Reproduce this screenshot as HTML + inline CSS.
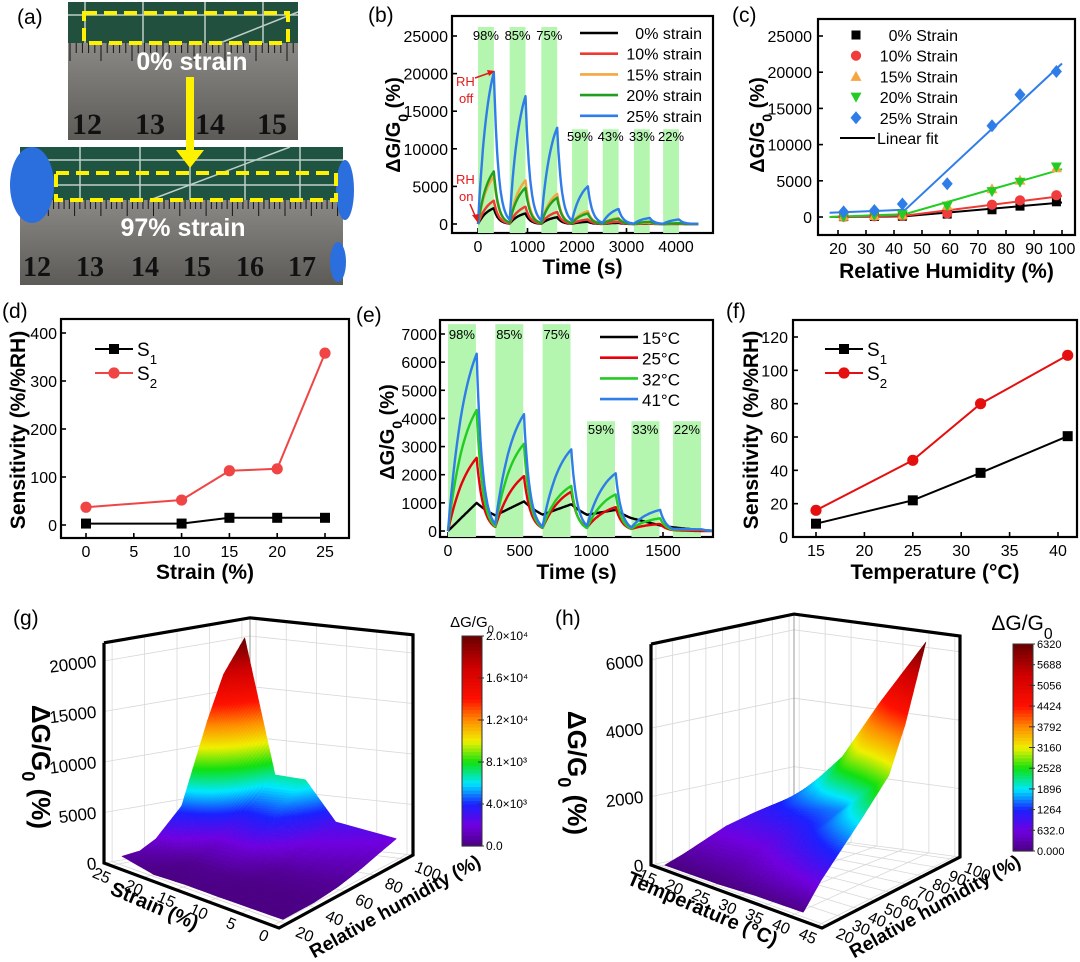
<!DOCTYPE html>
<html><head><meta charset="utf-8"><style>
html,body{margin:0;padding:0;background:#fff;}
svg{display:block;font-family:"Liberation Sans",Arial,sans-serif;}
</style></head><body>
<svg id="fig" width="1080" height="962" viewBox="0 0 1080 962">
<defs>
 <linearGradient id="rulerA" x1="0" y1="0" x2="0" y2="1"><stop offset="0" stop-color="#8a8985"/><stop offset="1" stop-color="#5d5b57"/></linearGradient>
 <clipPath id="clipB"><rect x="452" y="16" width="261" height="217"/></clipPath>
 <clipPath id="clipC"><rect x="818" y="19" width="257" height="216"/></clipPath>
 <clipPath id="clipE"><rect x="440" y="320" width="273" height="217"/></clipPath>
</defs>
<g>
 <text x="17" y="24" font-size="21">(a)</text>
 <rect x="68" y="2" width="230" height="41" fill="#22503f"/>
 <rect x="68" y="43" width="230" height="97" fill="url(#rulerA)"/>
 <g stroke="#e8efe8" stroke-width="1.5" opacity="0.8">
  <line x1="85" y1="2" x2="85" y2="43"/><line x1="143" y1="2" x2="143" y2="43"/><line x1="205" y1="2" x2="205" y2="43"/><line x1="263" y1="2" x2="263" y2="43"/><line x1="68" y1="15" x2="298" y2="15"/><line x1="220" y1="43" x2="298" y2="12"/>
 </g>
 <rect x="20" y="147" width="323" height="53" fill="#1f5443"/>
 <rect x="20" y="200" width="323" height="85" fill="url(#rulerA)"/>
 <g stroke="#e8efe8" stroke-width="1.5" opacity="0.8">
  <line x1="80" y1="147" x2="80" y2="200"/><line x1="140" y1="147" x2="140" y2="200"/><line x1="190" y1="147" x2="190" y2="200"/><line x1="245" y1="147" x2="245" y2="200"/><line x1="300" y1="147" x2="300" y2="200"/><line x1="20" y1="160" x2="343" y2="160"/><line x1="20" y1="185" x2="343" y2="185"/><line x1="150" y1="200" x2="290" y2="147"/>
 </g>
 <g id="rulerTicks"></g>
 <ellipse cx="32" cy="185" rx="22" ry="38" fill="#2b6ede"/>
 <ellipse cx="345" cy="190" rx="9" ry="30" fill="#2b6ede"/>
 <ellipse cx="338" cy="262" rx="8" ry="20" fill="#2b6ede"/>
 <rect x="84" y="13" width="204" height="30" fill="none" stroke="#fff200" stroke-width="4" stroke-dasharray="13 7"/>
 <rect x="56" y="173" width="280" height="27" fill="none" stroke="#fff200" stroke-width="4" stroke-dasharray="13 7"/>
 <line x1="190" y1="77" x2="190" y2="152" stroke="#fff200" stroke-width="8"/>
 <polygon points="176,150 204,150 190,168" fill="#fff200"/>
 <text x="192" y="70" font-size="25" font-weight="bold" fill="#fff" text-anchor="middle">0% strain</text>
 <text x="183" y="236" font-size="25" font-weight="bold" fill="#fff" text-anchor="middle">97% strain</text>
 <g font-family="Liberation Serif,serif" font-weight="bold" font-size="30" fill="#111" text-anchor="middle">
  <text x="87" y="134">12</text><text x="150" y="134">13</text><text x="210" y="134">14</text><text x="272" y="134">15</text>
 </g>
 <g font-family="Liberation Serif,serif" font-weight="bold" font-size="28" fill="#111" text-anchor="middle">
  <text x="37" y="276">12</text><text x="90" y="276">13</text><text x="145" y="276">14</text><text x="197" y="276">15</text><text x="250" y="276">16</text><text x="302" y="276">17</text>
 </g>
</g>
<g id="plots"></g>
</svg>
<script>
// Panel b
const bBandStarts=[0,640,1280,1900,2520,3150,3740];
const bBandLabels=['98%','85%','75%','59%','43%','33%','22%'];
const bSeriesNames=['0% strain','10% strain','15% strain','20% strain','25% strain'];
const bPeaks0=[2100,1400,900,300,150,50,20];
const bPeaks10=[3100,2300,1600,600,300,100,30];
const bPeaks15=[6300,5800,4000,1700,800,200,100];
const bPeaks20=[7000,4800,3500,1400,700,300,100];
const bPeaks25=[20200,17000,12800,5000,2000,800,600];
const bXTicks=[0,1000,2000,3000,4000];
const bYTicks=[0,5000,10000,15000,20000,25000];
// Panel c
const cRH=[22,33,43,59,75,85,98];
const c0=[50,80,100,400,1000,1500,2100];
const c10=[50,100,150,500,1700,2300,3000];
const c15=[100,200,300,1600,3900,5100,6800];
const c20=[0,200,300,1500,3500,4800,6900];
const c25=[700,900,1800,4600,12600,16900,20100];
const cFitRH=[17,44,100];
const cFit0=[0,100,2000];
const cFit10=[0,200,2900];
const cFit20=[0,400,6600];
const cFit25=[600,1000,21200];
const cXTicks=[20,30,40,50,60,70,80,90,100];
const cYTicks=[0,5000,10000,15000,20000,25000];
// Panel d
const dStrain=[0,10,15,20,25];
const dS1=[3,3,15,15,15];
const dS2=[37,52,113,117,358];
const dXTicks=[0,5,10,15,20,25];
const dYTicks=[0,100,200,300,400];
// Panel e
const eBandStarts=[0,330,660,970,1280,1570];
const eBandLabels=['98%','85%','75%','59%','33%','22%'];
const eSeriesNames=['15°C','25°C','32°C','41°C'];
const ePeaks15=[1000,1050,950,750,200,20];
const ePeaks25=[2600,1950,1400,850,250,0];
const ePeaks32=[4300,3100,1600,1300,450,50];
const ePeaks41=[6300,4150,2900,2050,750,60];
const eXTicks=[0,500,1000,1500];
const eYTicks=[0,1000,2000,3000,4000,5000,6000,7000];
// Panel f
const fTemp=[15,25,32,41];
const fS1=[8,22,38.5,60.5];
const fS2=[16,46,80,109];
const fXTicks=[15,20,25,30,35,40];
const fYTicks=[0,20,40,60,80,100,120];
// Panel g
const gStrain=[0,10,15,20,25];
const gRH=[22,33,43,59,75,85,98];
const gZ=[c0,c10,c15,c20,c25];
const gZTicks=[0,5000,10000,15000,20000];
const gStrainTicks=[0,5,10,15,20,25];
const gRHTicks=[20,40,60,80,100];
const gBarLabels=['0.0','4.0×10³','8.1×10³','1.2×10⁴','1.6×10⁴','2.0×10⁴'];
// Panel h
const hTemp=[15,25,32,41];
const hRH=[22,33,59,75,85,98];
const hZ=[[0,200,750,950,1050,1000],[0,250,850,1400,1950,2600],[50,450,1300,1600,3100,4300],[60,750,2050,2900,4150,6300]];
const hZTicks=[0,2000,4000,6000];
const hTempTicks=[15,20,25,30,35,40,45];
const hRHTicks=[20,30,40,50,60,70,80,90,100];
const hBarLabels=['0.000','632.0','1264','1896','2528','3160','3792','4424','5056','5688','6320'];

const NS='http://www.w3.org/2000/svg';
const root=document.getElementById('plots');
function el(tag,attrs,parent){const e=document.createElementNS(NS,tag);for(const k in attrs)e.setAttribute(k,attrs[k]);(parent||root).appendChild(e);return e;}
function lin(d0,d1,r0,r1){return v=>r0+(v-d0)*(r1-r0)/(d1-d0);}
const GT='ΔG/G<tspan baseline-shift="sub" font-size="70%">0</tspan> (%)';

(function(){const g=document.getElementById('rulerTicks');
 for(let x=70;x<298;x+=6.2){const l=el('line',{x1:x,y1:43,x2:x,y2:43+((Math.round((x-70)/6.2)%5==0)?18:10),stroke:'#151515','stroke-width':1},g);
 
 }
 for(let x=22;x<343;x+=5.26){const l=el('line',{x1:x,y1:200,x2:x,y2:200+((Math.round((x-22)/5.26)%5==0)?16:9),stroke:'#151515','stroke-width':1},g);
 
 }
})();

function frame(c){
 const g=el('g',{});
 
 
 const r=el('rect',{x:c.x0,y:c.y0,width:c.x1-c.x0,height:c.y1-c.y0,fill:'none',stroke:'#000','stroke-width':2.2},g);
 
 
 for(const t of c.xt){const x=c.X(t);
  const l=el('line',{x1:x,y1:c.y1,x2:x,y2:c.y1-5,stroke:'#000','stroke-width':1.6},g);
  
  
  const tx=el('text',{x:x,y:c.y1+19,'font-size':16,'text-anchor':'middle'},g);tx.textContent=t;
  
  }
 for(const t of c.yt){const y=c.Y(t);
  const l=el('line',{x1:c.x0,y1:y,x2:c.x0+5,y2:y,stroke:'#000','stroke-width':1.6},g);
  
  
  const tx=el('text',{x:c.ylx,y:y+6,'font-size':16,'text-anchor':'end'},g);tx.textContent=t;
  
  }
 const xt=el('text',{x:(c.x0+c.x1)/2,y:c.xty,'font-size':21,'font-weight':'bold','text-anchor':'middle'},g);xt.textContent=c.xtitle;
 
 
 const yt=el('text',{x:0,y:0,'font-size':c.ytf||20,'font-weight':'bold','text-anchor':'middle',transform:`translate(${c.ytx},${c.ytc}) rotate(-90)`},g);yt.innerHTML=c.ytitle;
 
 
 const pl=el('text',{x:c.plx,y:c.ply,'font-size':21},g);pl.textContent=c.label;
 
 
 return g;
}
function cycles(starts,width,peaks,end,alpha,tau){
 const pts=[];let base=0;
 for(let i=0;i<starts.length;i++){
  const t0=starts[i],t1=t0+width,t2=i<starts.length-1?starts[i+1]:end;
  for(let k=0;k<=16;k++){const u=k/16;const f=alpha>0.01?(1-Math.exp(-alpha*u))/(1-Math.exp(-alpha)):u;pts.push([t0+width*u,base+(peaks[i]-base)*f]);}
  let v=peaks[i];
  for(let k=1;k<=24;k++){const t=t1+(t2-t1)*k/24;v=peaks[i]*Math.exp(-(t-t1)/tau);pts.push([t,v]);}
  base=v;
 }
 return pts;
}
function pathFrom(pts,X,Y){return pts.map((p,i)=>(i?'L':'M')+X(p[0]).toFixed(1)+','+Y(p[1]).toFixed(1)).join('');}
function marker(g,type,x,y,col,s){let m;
 if(type=='sq')m=el('rect',{x:x-s,y:y-s,width:2*s,height:2*s,fill:col},g);
 else if(type=='ci')m=el('circle',{cx:x,cy:y,r:s+0.6,fill:col},g);
 else if(type=='tu')m=el('polygon',{points:`${x},${y-s-1} ${x-s-1},${y+s} ${x+s+1},${y+s}`,fill:col},g);
 else if(type=='td')m=el('polygon',{points:`${x},${y+s+1} ${x-s-1},${y-s} ${x+s+1},${y-s}`,fill:col},g);
 else m=el('polygon',{points:`${x},${y-s-2} ${x+s+1},${y} ${x},${y+s+2} ${x-s-1},${y}`,fill:col},g);
 return m;}

(function(){
 const X=lin(0,4000,478,676),Y=lin(0,25000,224,36);
 const g=frame({name:'panel-b',x0:452,y0:16,x1:713,y1:233,X,Y,xt:bXTicks,yt:bYTicks,ylx:448,xtitle:'Time (s)',xty:274,ytitle:GT,ytx:400,ytc:125,label:'(b)',plx:368,ply:22});
 const bg=el('g',{'clip-path':'url(#clipB)'},g);
 bBandStarts.forEach((s,i)=>{const top=i<3?26200:12600;
  const r=el('rect',{x:X(s),y:Y(top),width:X(s+320)-X(s),height:Y(-1500)-Y(top),fill:'#b4f5b0'},bg);
  
  
  const t=el('text',{x:X(s+160),y:i<3?40:141,'font-size':13,'text-anchor':'middle'},g);t.textContent=bBandLabels[i];
  
  });
 const series=[bPeaks0,bPeaks10,bPeaks15,bPeaks20,bPeaks25];
 const cols=['#000','#ee3a33','#f6a640','#1f9e1f','#2f7de8'];
 series.forEach((pk,i)=>{const p=el('path',{d:pathFrom(cycles(bBandStarts,320,pk,4450,1.6,90),X,Y),fill:'none',stroke:cols[i],'stroke-width':2.4,'stroke-linejoin':'round'},bg);
  
  });
 bSeriesNames.forEach((n,i)=>{const y=33+i*20.7;
  const l=el('line',{x1:580,y1:y,x2:618,y2:y,stroke:cols[i],'stroke-width':2.6},g);
  
  
  const t=el('text',{x:702,y:y+6,'font-size':16,'text-anchor':'end'},g);t.textContent=n;
  
  });
 const ann=el('g',{fill:'#e21a1a','font-size':13},g);
 
 
 ann.innerHTML='<text x="456" y="86">RH</text><text x="459" y="103">off</text><text x="456" y="184">RH</text><text x="459" y="201">on</text>'+
 '<line x1="475" y1="78" x2="492" y2="72" stroke="#e21a1a" stroke-width="1.5"/><polygon points="495,71 487,70 489,76" fill="#e21a1a"/>'+
 '<line x1="470" y1="204" x2="476" y2="218" stroke="#e21a1a" stroke-width="1.5"/><polygon points="478,223 472,215 479,214" fill="#e21a1a"/>';
})();

(function(){
 const X=lin(20,100,838,1062),Y=lin(0,25000,217,36);
 const g=frame({name:'panel-c',x0:818,y0:19,x1:1075,y1:235,X,Y,xt:cXTicks,yt:cYTicks,ylx:812,xtitle:'Relative Humidity (%)',xty:278,ytitle:GT,ytx:764,ytc:125,label:'(c)',plx:732,ply:22});
 const cg=el('g',{'clip-path':'url(#clipC)'},g);
 const fits=[[cFit0,'#000'],[cFit10,'#ee3a33'],[cFit20,'#22cc22'],[cFit25,'#2f7de8']];
 fits.forEach(f=>{const p=el('path',{d:pathFrom(cFitRH.map((r,i)=>[r,f[0][i]]),X,Y),fill:'none',stroke:f[1],'stroke-width':2},cg);
  
  });
 const ser=[[c0,'sq','#000'],[c10,'ci','#f03c3c'],[c15,'tu','#f6a640'],[c20,'td','#22cc22'],[c25,'di','#2f7de8']];
 ser.forEach(s=>{s[0].forEach((v,i)=>{const m=marker(cg,s[1],X(cRH[i]),Y(v),s[2],4.5);
  
  });});
 const names=['0% Strain','10% Strain','15% Strain','20% Strain','25% Strain'];
 names.forEach((n,i)=>{const y=35+i*20.7;const m=marker(g,ser[i][1],856,y,ser[i][2],4.5);
  
  
  const t=el('text',{x:958,y:y+6,'font-size':16,'text-anchor':'end'},g);t.textContent=n;
  
  });
 const l=el('line',{x1:840,y1:138,x2:875,y2:138,stroke:'#000','stroke-width':2},g);
 
 
 const t=el('text',{x:877,y:144,'font-size':16},g);t.textContent='Linear fit';
 
 
})();

function sensPanel(o){
 const g=frame(o);
 [[o.s1,'sq','#000'],[o.s2,'ci',o.red]].forEach(s=>{
  const p=el('path',{d:pathFrom(o.xs.map((x,i)=>[x,s[0][i]]),o.X,o.Y),fill:'none',stroke:s[2],'stroke-width':2},g);
  
  
  s[0].forEach((v,i)=>{const m=marker(g,s[1],o.X(o.xs[i]),o.Y(v),s[2],5);
   
   });});
 [['S','1',o.ly1,'sq','#000'],['S','2',o.ly2,'ci',o.red]].forEach(e=>{
  const l=el('line',{x1:o.lx,y1:e[2],x2:o.lx+38,y2:e[2],stroke:e[4],'stroke-width':2},g);
  
  
  const m=marker(g,e[3],o.lx+19,e[2],e[4],5);
  
  
  const t=el('text',{x:o.lx+42,y:e[2]+7,'font-size':19},g);t.innerHTML=e[0]+'<tspan baseline-shift="sub" font-size="70%">'+e[1]+'</tspan>';
  
  });
}
sensPanel({name:'panel-d',x0:61,y0:319,x1:349,y1:538,X:lin(0,25,86,325),Y:lin(0,400,525,333),xt:dXTicks,yt:dYTicks,ylx:57,xtitle:'Strain (%)',xty:579,ytitle:'Sensitivity (%/%RH)',ytf:21,ytx:25,ytc:430,label:'(d)',plx:2,ply:318,xs:dStrain,s1:dS1,s2:dS2,red:'#f04545',lx:95,ly1:349,ly2:373});
sensPanel({name:'panel-f',x0:793,y0:320,x1:1077,y1:537,X:lin(15,40,816,1058),Y:lin(0,120,537,337),xt:fXTicks,yt:fYTicks,ylx:788,xtitle:'Temperature (°C)',xty:579,ytitle:'Sensitivity (%/%RH)',ytf:21,ytx:758,ytc:430,label:'(f)',plx:726,ply:318,xs:fTemp,s1:fS1,s2:fS2,red:'#e50f0f',lx:825,ly1:349,ly2:373});

(function(){
 const X=lin(0,1500,448,663),Y=lin(0,7000,531,334);
 const g=frame({name:'panel-e',x0:440,y0:320,x1:713,y1:537,X,Y,xt:eXTicks,yt:eYTicks,ylx:437,xtitle:'Time (s)',xty:579,ytitle:GT,ytx:394,ytc:432,label:'(e)',plx:356,ply:322});
 const eg=el('g',{'clip-path':'url(#clipE)'},g);
 eBandStarts.forEach((s,i)=>{const top=i<3?7350:3900;
  const r=el('rect',{x:X(s),y:Y(top),width:X(s+195)-X(s),height:Y(-400)-Y(top),fill:'#b4f5b0'},eg);
  
  
  const t=el('text',{x:X(s+97),y:i<3?339:434,'font-size':13,'text-anchor':'middle'},g);t.textContent=eBandLabels[i];
  
  });
 const series=[[ePeaks15,'#000',0,220],[ePeaks25,'#e8000b',1.4,45],[ePeaks32,'#22cc22',1.6,40],[ePeaks41,'#2f7de8',1.6,40]];
 series.forEach(s=>{const p=el('path',{d:pathFrom(cycles(eBandStarts,200,s[0],1840,s[2],s[3]),X,Y),fill:'none',stroke:s[1],'stroke-width':2.4,'stroke-linejoin':'round'},eg);
  
  });
 eSeriesNames.forEach((n,i)=>{const y=337+i*20.7;
  const l=el('line',{x1:600,y1:y,x2:638,y2:y,stroke:series[i][1],'stroke-width':2.6},g);
  
  
  const t=el('text',{x:642,y:y+7,'font-size':17},g);t.textContent=n;
  
  });
})();

const CM=[[0,[74,0,128]],[0.1,[112,0,224]],[0.2,[26,32,255]],[0.3,[0,232,255]],[0.4,[16,224,16]],[0.5,[240,240,0]],[0.6,[255,140,0]],[0.7,[255,16,0]],[0.85,[208,0,0]],[1,[106,0,0]]];
function cmap(t){t=Math.max(0,Math.min(1,t));for(let i=1;i<CM.length;i++){if(t<=CM[i][0]){const a=CM[i-1],b=CM[i],f=(t-a[0])/(b[0]-a[0]);const c=a[1].map((v,k)=>Math.round(v+(b[1][k]-v)*f));return `rgb(${c})`;}}return 'rgb(106,0,0)';}
function make3D(o){
 const g=el('g',{});
 
 
 const P=(a,r,z)=>{const u=(o.a0-a)/(o.a0-o.a1),v=(r-o.r0)/(o.r1-o.r0);
  const x=o.A[0]*(1-u)*(1-v)+o.B[0]*u*(1-v)+o.C[0]*u*v+o.D[0]*(1-u)*v;
  const y=o.A[1]*(1-u)*(1-v)+o.B[1]*u*(1-v)+o.C[1]*u*v+o.D[1]*(1-u)*v-z*o.zs;return [x,y];};
 const a0=o.a0,a1=o.a1,r0=o.r0,r1=o.r1,zt=o.zTop;
 const gr=el('g',{stroke:'#d8d8d8','stroke-width':0.8,fill:'none'},g);
 
 
 for(const z of o.zt){const p1=P(a0,r0,z),p2=P(a0,r1,z),p3=P(a1,r1,z);el('polyline',{points:`${p1} ${p2} ${p3}`},gr);}
 for(const r of o.rt){const p1=P(a0,r,0),p2=P(a0,r,zt),p3=P(a1,r,0);el('polyline',{points:`${p2} ${p1} ${p3}`},gr);}
 for(const a of o.at){const p1=P(a,r1,0),p2=P(a,r1,zt),p3=P(a,r0,0);el('polyline',{points:`${p2} ${p1} ${p3}`},gr);}
 const mid=el('polyline',{points:`${P(a0,r1,zt)} ${P(a0,r1,0)}`,stroke:'#999','stroke-width':1,fill:'none'},g);
 
 
 const sg=el('g',{},g);
 
 
 const quads=[];
 const zAt=(i,j,fi,fj)=>{const z00=o.Z[i][j],z10=o.Z[i+1][j],z01=o.Z[i][j+1],z11=o.Z[i+1][j+1];return z00*(1-fi)*(1-fj)+z10*fi*(1-fj)+z01*(1-fi)*fj+z11*fi*fj;};
 for(let i=0;i<o.as.length-1;i++)for(let j=0;j<o.rs.length-1;j++){
  const zs4=[o.Z[i][j],o.Z[i+1][j],o.Z[i][j+1],o.Z[i+1][j+1]];
  const dz=Math.max(...zs4)-Math.min(...zs4);
  const N=Math.max(6,Math.min(36,Math.ceil(dz/(o.zmax/90))));
  for(let p=0;p<N;p++)for(let q=0;q<N;q++){
  const f=[[p/N,q/N],[(p+1)/N,q/N],[(p+1)/N,(q+1)/N],[p/N,(q+1)/N]];
  const pts=f.map(([fi,fj])=>{const a=o.as[i]+(o.as[i+1]-o.as[i])*fi,r=o.rs[j]+(o.rs[j+1]-o.rs[j])*fj;return P(a,r,zAt(i,j,fi,fj));});
  const zc=zAt(i,j,(p+.5)/N,(q+.5)/N);
  const ac=o.as[i]+(o.as[i+1]-o.as[i])*(p+.5)/N,rc=o.rs[j]+(o.rs[j+1]-o.rs[j])*(q+.5)/N;
  const du=(o.a0-ac)/(o.a0-o.a1),dv=(o.r1-rc)/(o.r1-o.r0);
  quads.push({pts,zc,depth:du+dv,tie:du});}}
 quads.sort((a,b)=>(a.depth-b.depth)||(a.tie-b.tie));
 for(const qd of quads){const c=cmap(qd.zc/o.zmax);
  const pg=el('polygon',{points:qd.pts.map(p=>p.map(v=>v.toFixed(1)).join(',')).join(' '),fill:c,stroke:c,'stroke-width':0.5},sg);
  
  }
 const bx=el('polyline',{points:`${P(a0,r0,zt)} ${P(a0,r1,zt)} ${P(a1,r1,zt)} ${P(a1,r1,0)} ${P(a1,r0,0)} ${P(a0,r0,0)} ${P(a0,r0,zt)}`,fill:'none',stroke:'#000','stroke-width':3.2,'stroke-linejoin':'miter'},g);
 
 
 for(const z of o.zt){const p=P(a0,r0,z);
  const t=el('text',{x:0,y:0,'font-size':17,'text-anchor':'end',transform:`translate(${p[0]-7},${p[1]+6}) rotate(-7)`},g);t.textContent=z;
  
  }
 for(const a of o.at){const p=P(a,r0,0);
  const t=el('text',{x:0,y:0,'font-size':16,'text-anchor':'middle',transform:`translate(${p[0]-11},${p[1]+15}) rotate(24)`},g);t.textContent=a;
  
  }
 for(const r of o.rt){const p=P(a1,r,0);
  const t=el('text',{x:0,y:0,'font-size':16,'text-anchor':'start',transform:`translate(${p[0]+8},${p[1]+12}) rotate(22)`},g);t.textContent=r;
  
  }
 const t1=el('text',{x:0,y:0,'font-size':o.atf,'font-weight':'bold','text-anchor':'middle',transform:`translate(${o.atc}) rotate(23)`},g);t1.textContent=o.atitle;
 
 
 const t2=el('text',{x:0,y:0,'font-size':19,'font-weight':'bold','text-anchor':'middle',transform:`translate(${o.rtc}) rotate(-29)`},g);t2.textContent='Relative humidity (%)';
 
 
 const t3=el('text',{x:0,y:0,'font-size':26,'font-weight':'bold','text-anchor':'middle',transform:`translate(${o.ztc}) rotate(90)`},g);t3.innerHTML=GT;
 
 
 const pl=el('text',{x:o.pl[0],y:o.pl[1],'font-size':21},g);pl.textContent=o.label;
 
 
 const cb=el('g',{},g);
 
 
 const H=o.cb[3]-o.cb[1];
 for(let k=0;k<60;k++){const y=o.cb[3]-H*(k+1)/60;
  const r=el('rect',{x:o.cb[0],y:y,width:o.cb[2]-o.cb[0],height:H/60+0.6,fill:cmap((k+.5)/60)},cb);
  
  }
 el('rect',{x:o.cb[0],y:o.cb[1],width:o.cb[2]-o.cb[0],height:H,fill:'none',stroke:'#333','stroke-width':1},cb);
 o.cbl.forEach((s,k)=>{const y=o.cb[3]-H*k/(o.cbl.length-1);
  el('line',{x1:o.cb[2]-4,y1:y,x2:o.cb[2]+2,y2:y,stroke:'#333'},cb);
  const t=el('text',{x:o.cb[2]+4,y:y+4,'font-size':o.cbf},cb);t.textContent=s;
  
  });
 const ct=el('text',{x:o.cbt[0],y:o.cbt[1],'font-size':o.cbtf,'text-anchor':'middle'},cb);ct.innerHTML='ΔG/G<tspan baseline-shift="sub" font-size="75%">0</tspan>';
 
 
}
make3D({name:'panel-g',a0:26,a1:-1,r0:15,r1:105,A:[104,863],B:[279,928],C:[413,855],D:[250,838],zs:0.0101,zTop:21800,zmax:20000,
 as:gStrain,rs:gRH,Z:gZ,zt:gZTicks,at:gStrainTicks,rt:gRHTicks,atitle:'Strain (%)',atf:20,atc:'152,912',rtc:'398,912',ztc:'32,767',
 label:'(g)',pl:[13,625],cb:[462,636,482,846],cbl:gBarLabels,cbf:12,cbt:[472,627],cbtf:15});
make3D({name:'panel-h',a0:14,a1:46,r0:17,r1:103,A:[651,865],B:[822,928],C:[960,857],D:[794,835],zs:0.0342,zTop:6460,zmax:6320,
 as:hTemp,rs:hRH,Z:hZ,zt:hZTicks,at:hTempTicks,rt:hRHTicks,atitle:'Temperature (°C)',atf:20,atc:'700,915',rtc:'938,912',ztc:'568,773',
 label:'(h)',pl:[555,625],cb:[1013,644,1033,851],cbl:hBarLabels,cbf:11,cbt:[1022,630],cbtf:21});
</script>
</body></html>
